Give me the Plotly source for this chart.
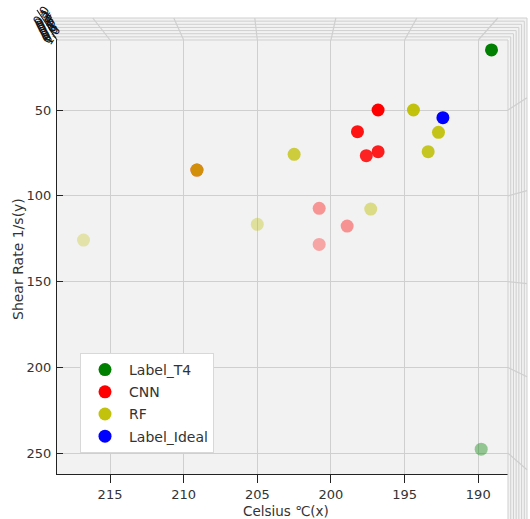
import plotly.graph_objects as go

# ---- data -------------------------------------------------------------
# x: Celsius, y: shear rate, z: depth coordinate (viewed from above, used for shading)
t4_x = [189.1, 189.8]
t4_y = [15.0, 247.6]
t4_z = [1.00, 0.14]

cnn_x = [196.8, 198.2, 196.8, 197.6, 209.1, 200.8, 198.9, 200.8]
cnn_y = [50.0, 62.6, 74.3, 76.6, 85.0, 107.3, 117.6, 128.3]
cnn_z = [1.00, 0.89, 0.83, 0.79, 0.79, 0.12, 0.14, 0.03]

rf_x = [194.4, 192.7, 193.4, 202.5, 209.1, 197.3, 205.0, 216.8]
rf_y = [50.0, 63.0, 74.3, 75.8, 85.0, 107.7, 116.6, 125.8]
rf_z = [0.93, 0.86, 0.79, 0.64, 0.57, 0.21, 0.07, 0.00]

ideal_x = [192.4]
ideal_y = [54.5]
ideal_z = [1.00]

x_ticks = [215, 210, 205, 200, 195, 190]
y_ticks = [50, 100, 150, 200, 250]
z_tick_labels = ["0.0", "0.1", "0.2", "0.3", "0.4", "0.5", "0.6", "0.7", "0.8", "0.9", "1.0"]

# ---- figure geometry (pixels) ------------------------------------------
W, H = 530, 519
L, R, T, B = 57, 508, 40, 474          # floor panel edges
X_RANGE = [218.6, 187.98]               # reversed x
Y_RANGE = [262.06, 9.22]                # reversed y


def px(x):
    return (x - L) / (R - L)


def py(y):
    return (B - y) / (B - T)


def x_to_pix(v):
    return L + (X_RANGE[0] - v) / (X_RANGE[0] - X_RANGE[1]) * (R - L)


def y_to_pix(v):
    return T + (v - Y_RANGE[1]) / (Y_RANGE[0] - Y_RANGE[1]) * (B - T)


all_z = t4_z + cnn_z + rf_z + ideal_z
zmin, zmax = min(all_z), max(all_z)


def shade(rgb, z):
    # depth shading: nearer points opaque, farther points faded
    out = []
    for v in z:
        a = 0.3 + 0.7 * (v - zmin) / (zmax - zmin)
        out.append(f"rgba({rgb[0]},{rgb[1]},{rgb[2]},{a:.3f})")
    return out


fig = go.Figure()

series = [
    ("Label_T4", t4_x, t4_y, t4_z, (0, 128, 0)),
    ("CNN", cnn_x, cnn_y, cnn_z, (255, 0, 0)),
    ("RF", rf_x, rf_y, rf_z, (191, 191, 0)),
    ("Label_Ideal", ideal_x, ideal_y, ideal_z, (0, 0, 255)),
]
for name, xs, ys, zs, rgb in series:
    fig.add_trace(go.Scatter(
        x=xs, y=ys, mode="markers", name=name, legendgroup=name,
        marker=dict(size=13, color=shade(rgb, zs), line=dict(width=0)),
    ))

# ---- back walls of the 3D box (seen from above) -------------------------
shapes = []
wall = "#f2f2f2"
line_col = "#cfcfcf"
n = 8
top_outer, right_outer, left_outer = T - 22, R + 19, L - 13

# wall fills
shapes.append(dict(type="path", xref="paper", yref="paper", layer="below",
                   path=f"M{px(L)},{py(T)} L{px(R)},{py(T)} L{px(right_outer)},{py(top_outer)} "
                        f"L{px(left_outer)},{py(top_outer)} Z",
                   fillcolor=wall, line=dict(width=0)))
shapes.append(dict(type="path", xref="paper", yref="paper", layer="below",
                   path=f"M{px(R)},{py(T)} L{px(right_outer)},{py(top_outer)} "
                        f"L{px(right_outer)},{py(H + 5)} L{px(R)},{py(H + 5)} Z",
                   fillcolor=wall, line=dict(width=0)))

# stacked z-grid frames
for i in range(n):
    t = i / (n - 1)
    yt = T - 22 * t
    xl = L - 13 * t
    xr = R + 19 * t
    shapes.append(dict(type="line", xref="paper", yref="paper",
                       x0=px(xl), y0=py(yt), x1=px(xr), y1=py(yt),
                       line=dict(color=line_col, width=1)))
    shapes.append(dict(type="line", xref="paper", yref="paper",
                       x0=px(xr), y0=py(yt), x1=px(xr), y1=py(H + 5),
                       line=dict(color=line_col, width=1)))

# x grid continuing up the top wall, y grid continuing across the right wall
cx, cy = (L + R) / 2, (T + B) / 2
for v in x_ticks:
    xg = x_to_pix(v)
    shapes.append(dict(type="line", xref="paper", yref="paper",
                       x0=px(xg), y0=py(T), x1=px(xg + (xg - cx) * 0.1), y1=py(top_outer),
                       line=dict(color=line_col, width=1.2)))
for v in y_ticks:
    yg = y_to_pix(v)
    shapes.append(dict(type="line", xref="paper", yref="paper",
                       x0=px(R), y0=py(yg), x1=px(right_outer), y1=py(yg + (yg - cy) * 0.084),
                       line=dict(color=line_col, width=1.2)))

# z axis edge at the top-left corner
shapes.append(dict(type="line", xref="paper", yref="paper",
                   x0=px(L), y0=py(T), x1=px(L - 20), y1=py(T - 30),
                   line=dict(color="#222222", width=1.2)))

annotations = []
# z tick labels crowded along the corner edge
for k, lab in enumerate(z_tick_labels):
    f = k / (len(z_tick_labels) - 1)
    annotations.append(dict(
        x=px(41 + 11 * f), y=py(16 + 20 * f), xref="paper", yref="paper",
        xanchor="center", yanchor="middle",
        text=lab, showarrow=False, textangle=-58,
        font=dict(family="DejaVu Sans", size=12, color="#111111"),
    ))

annotations.append(dict(
    x=px(286), y=py(510.5), xref="paper", yref="paper", text="Celsius ℃(x)",
    xanchor="center", yanchor="middle",
    showarrow=False, font=dict(family="DejaVu Sans", size=13.5, color="#333333"),
))
annotations.append(dict(
    x=px(18), y=py(259), xref="paper", yref="paper", text="Shear Rate 1/s(y)",
    xanchor="center", yanchor="middle",
    showarrow=False, textangle=-90,
    font=dict(family="DejaVu Sans", size=14, color="#333333"),
))

fig.update_layout(
    width=W, height=H,
    margin=dict(l=L, r=W - R, t=T, b=H - B, pad=0),
    paper_bgcolor="white", plot_bgcolor=wall,
    font=dict(family="DejaVu Sans", size=13, color="#333333"),
    shapes=shapes, annotations=annotations,
    legend=dict(
        x=px(80), y=py(353), xanchor="left", yanchor="top",
        bgcolor="white", bordercolor="#d8d8d8", borderwidth=1,
        font=dict(family="DejaVu Sans", size=14, color="#333333"),
        tracegroupgap=1, itemwidth=38,
    ),
    showlegend=True,
)
fig.update_xaxes(
    range=X_RANGE, tickvals=x_ticks, ticktext=[str(v) for v in x_ticks],
    showgrid=True, gridcolor=line_col, gridwidth=1.2, zeroline=False,
    showline=True, linecolor="#222222", linewidth=1.2,
    ticks="outside", ticklen=8, tickcolor="#222222", ticklabelstandoff=0,
    tickfont=dict(size=13, color="#333333"),
)
fig.update_yaxes(
    range=Y_RANGE, tickvals=y_ticks, ticktext=[str(v) for v in y_ticks],
    showgrid=True, gridcolor=line_col, gridwidth=1.2, zeroline=False,
    showline=True, linecolor="#222222", linewidth=1.2,
    ticks="inside", ticklen=6, tickcolor="#222222", ticklabelstandoff=2,
    tickfont=dict(size=13, color="#333333"),
)

fig.write_html("out.html")
